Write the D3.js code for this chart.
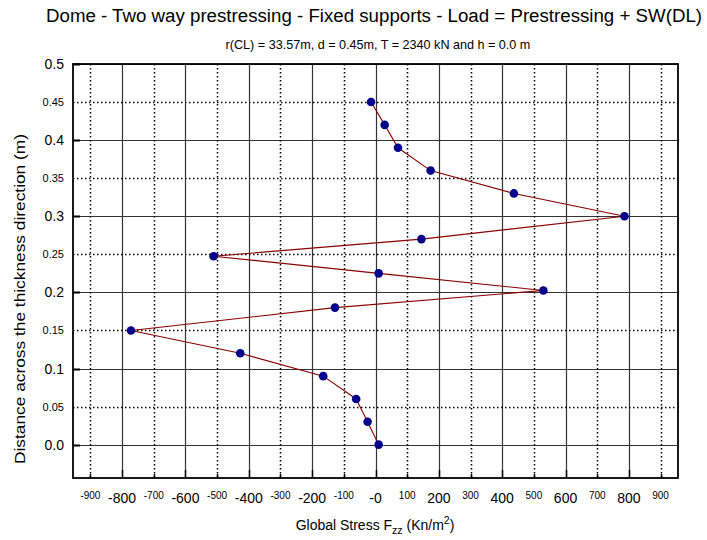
<!DOCTYPE html>
<html>
<head>
<meta charset="utf-8">
<script src="https://cdn.jsdelivr.net/npm/d3@7"></script>
<style>
  body { margin: 0; background: #fff; }
  text { font-family: "Liberation Sans", Arial, sans-serif; fill: #000; }
</style>
</head>
<body>
<svg id="chart"></svg>
<script>
// depth through the shell (m), top to bottom
const depths = [0.45, 0.42, 0.39, 0.36, 0.33, 0.30, 0.27, 0.2475, 0.225, 0.2025, 0.18, 0.15, 0.12, 0.09, 0.06, 0.03, 0.0];
// global stress Fzz (kN/m2)
const stresses = [-14, 29, 71, 174, 437, 786, 145, -511, 10, 530, -128, -772, -427, -165, -61, -25, 10];

const xMajorTicks = [-800, -600, -400, -200, 0, 200, 400, 600, 800];
const xMinorTicks = [-900, -700, -500, -300, -100, 100, 300, 500, 700, 900];
const yMajorTicks = [0.0, 0.1, 0.2, 0.3, 0.4, 0.5];
const yMinorTicks = [0.05, 0.15, 0.25, 0.35, 0.45];

const titleText = 'Dome - Two way prestressing - Fixed supports - Load = Prestressing + SW(DL)';
const subtitleText = 'r(CL) = 33.57m, d = 0.45m, T = 2340 kN and h = 0.0 m';

const width = 707, height = 540;
const margin = { left: 73, right: 29, top: 64, bottom: 62 };

const svg = d3.select('#chart').attr('width', width).attr('height', height);

const x = d3.scaleLinear().domain([-955, 955]).range([margin.left, width - margin.right]);
const y = d3.scaleLinear().domain([-0.0438, 0.5]).range([height - margin.bottom, margin.top]);

const chart = svg.append('g');

// grid: solid at majors, dotted at minors
chart.selectAll('.gx-major').data(xMajorTicks).enter().append('line')
    .attr('x1', d => Math.round(x(d)) + 0.5).attr('x2', d => Math.round(x(d)) + 0.5)
    .attr('y1', y.range()[1]).attr('y2', y.range()[0])
    .attr('stroke', '#333').attr('stroke-width', 1.2);
chart.selectAll('.gy-major').data(yMajorTicks).enter().append('line')
    .attr('x1', x.range()[0]).attr('x2', x.range()[1])
    .attr('y1', d => Math.round(y(d)) + 0.5).attr('y2', d => Math.round(y(d)) + 0.5)
    .attr('stroke', '#333').attr('stroke-width', 1.2);
chart.selectAll('.gx-minor').data(xMinorTicks).enter().append('line')
    .attr('x1', d => Math.round(x(d)) + 0.5).attr('x2', d => Math.round(x(d)) + 0.5)
    .attr('y1', y.range()[1]).attr('y2', y.range()[0])
    .attr('stroke', '#000').attr('stroke-width', 1.5).attr('stroke-dasharray', '1.5,2.5');
chart.selectAll('.gy-minor').data(yMinorTicks).enter().append('line')
    .attr('x1', x.range()[0]).attr('x2', x.range()[1])
    .attr('y1', d => Math.round(y(d)) + 0.5).attr('y2', d => Math.round(y(d)) + 0.5)
    .attr('stroke', '#000').attr('stroke-width', 1.5).attr('stroke-dasharray', '1.5,2.5');

// small ticks along the frame
chart.selectAll('.tx').data(xMajorTicks.concat(xMinorTicks)).enter().append('line')
    .attr('x1', d => Math.round(x(d)) + 0.5).attr('x2', d => Math.round(x(d)) + 0.5)
    .attr('y1', y.range()[0]).attr('y2', d => y.range()[0] - (xMajorTicks.includes(d) ? 8 : 4))
    .attr('stroke', '#000').attr('stroke-width', 1.5);
chart.selectAll('.ty').data(yMajorTicks).enter().append('line')
    .attr('x1', x.range()[0]).attr('x2', x.range()[0] + 7)
    .attr('y1', d => Math.round(y(d)) + 0.5).attr('y2', d => Math.round(y(d)) + 0.5)
    .attr('stroke', '#000').attr('stroke-width', 2);

// frame
chart.append('rect')
    .attr('x', x.range()[0]).attr('y', y.range()[1])
    .attr('width', x.range()[1] - x.range()[0]).attr('height', y.range()[0] - y.range()[1])
    .attr('fill', 'none').attr('stroke', '#000').attr('stroke-width', 1.8);

// tick labels
const fmtX = d => d === 0 ? '-0' : String(d);
chart.selectAll('.lx-major').data(xMajorTicks).enter().append('text')
    .attr('x', d => x(d)).attr('y', 503)
    .attr('text-anchor', 'middle').attr('font-size', 14).text(fmtX);
chart.selectAll('.lx-minor').data(xMinorTicks).enter().append('text')
    .attr('x', d => x(d)).attr('y', 499)
    .attr('text-anchor', 'middle').attr('font-size', 10).text(fmtX);
chart.selectAll('.ly-major').data(yMajorTicks).enter().append('text')
    .attr('x', 64).attr('y', d => y(d) + 5)
    .attr('text-anchor', 'end').attr('font-size', 14).text(d => d.toFixed(1));
chart.selectAll('.ly-minor').data(yMinorTicks).enter().append('text')
    .attr('x', 64).attr('y', d => y(d) + 4)
    .attr('text-anchor', 'end').attr('font-size', 11).text(d => String(d));

// data line and points
const pts = depths.map((d, i) => ({ depth: d, stress: stresses[i] }));
const line = d3.line().x(d => x(d.stress)).y(d => y(d.depth));
chart.append('path').datum(pts)
    .attr('d', line).attr('fill', 'none')
    .attr('stroke', '#8b0000').attr('stroke-width', 1.1);
chart.selectAll('.pt').data(pts).enter().append('circle')
    .attr('cx', d => x(d.stress)).attr('cy', d => y(d.depth)).attr('r', 4.3)
    .attr('fill', '#00008b');

// titles
svg.append('text').attr('x', 374).attr('y', 22).attr('text-anchor', 'middle')
    .attr('font-size', 18).attr('textLength', 656).attr('lengthAdjust', 'spacingAndGlyphs')
    .text(titleText);
svg.append('text').attr('x', 378).attr('y', 49).attr('text-anchor', 'middle')
    .attr('font-size', 12.6).text(subtitleText);

const xl = svg.append('text').attr('x', 375).attr('y', 530).attr('text-anchor', 'middle')
    .attr('font-size', 14);
xl.append('tspan').text('Global Stress F');
xl.append('tspan').attr('font-size', 10.5).attr('dy', 4).text('zz');
xl.append('tspan').attr('dy', -4).text(' (Kn/m');
xl.append('tspan').attr('font-size', 10.5).attr('dy', -6).text('2');
xl.append('tspan').attr('dy', 6).text(')');

svg.append('text')
    .attr('transform', 'translate(25,299) rotate(-90)')
    .attr('text-anchor', 'middle').attr('font-size', 15)
    .attr('textLength', 330).attr('lengthAdjust', 'spacingAndGlyphs')
    .text('Distance across the thickness direction (m)');
</script>
</body>
</html>
